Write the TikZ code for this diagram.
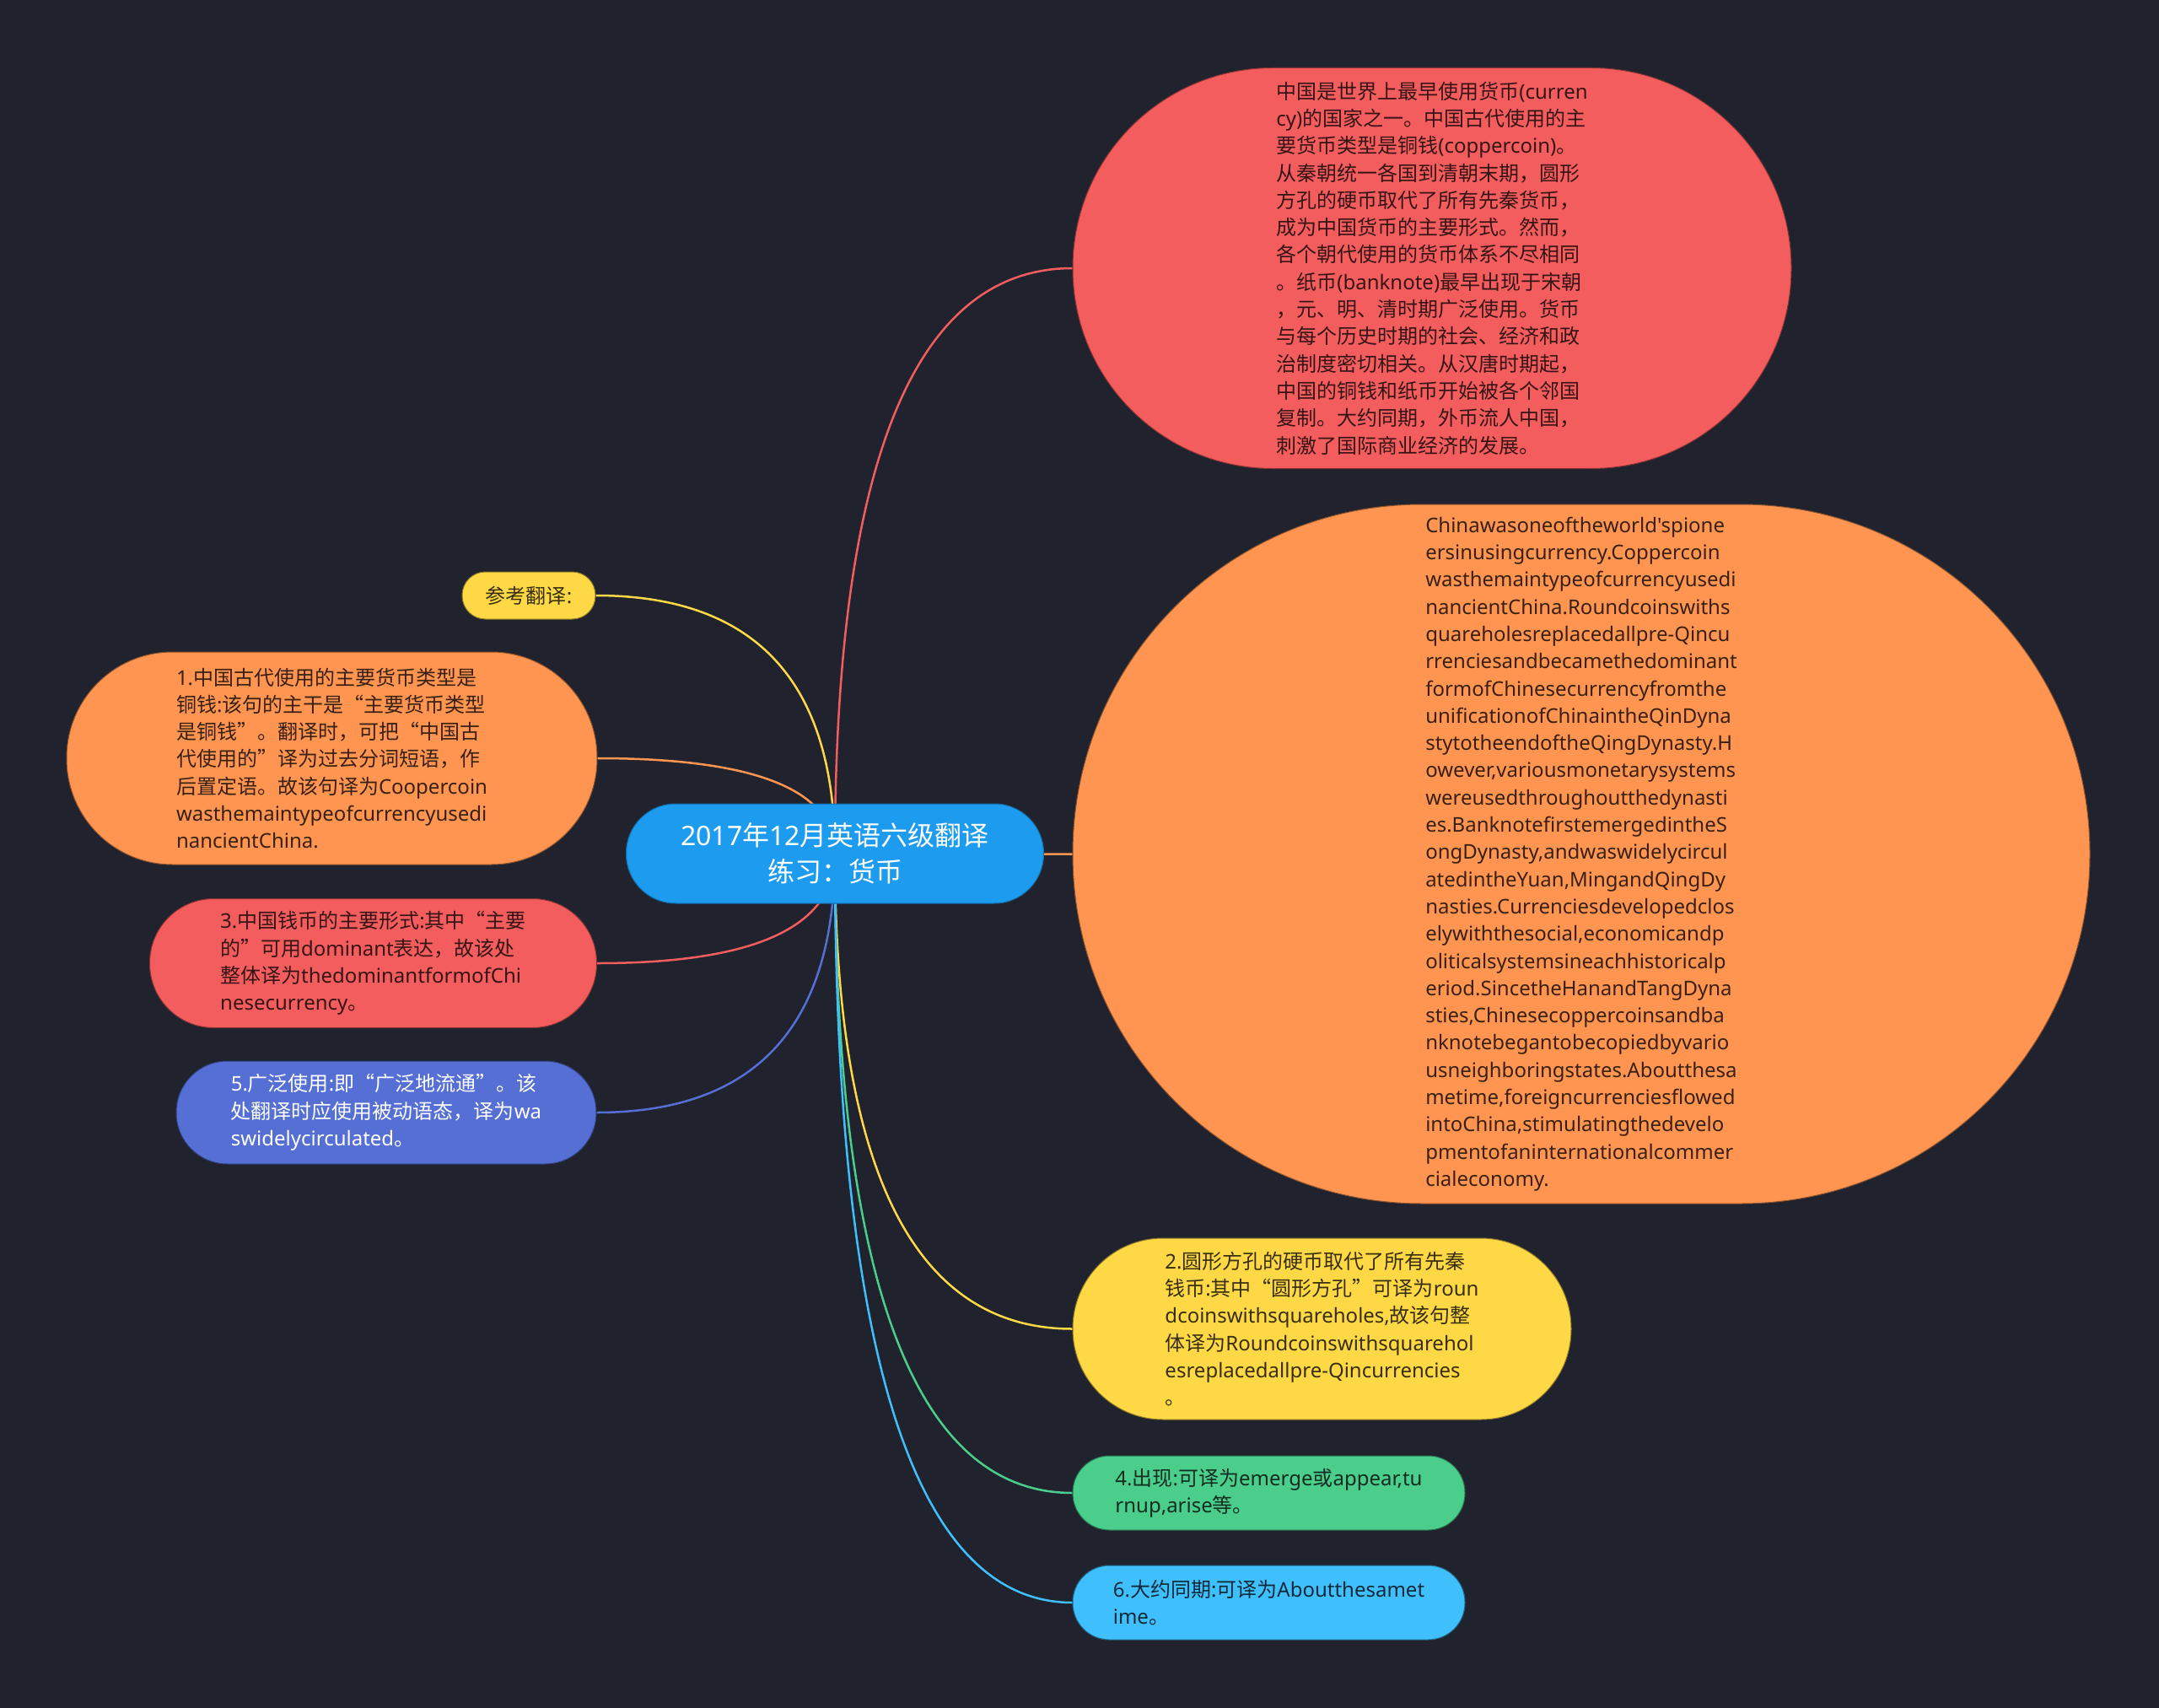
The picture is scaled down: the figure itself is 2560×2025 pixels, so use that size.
\documentclass[tikz,border=0pt]{standalone}
\usepackage{fontspec}
\setmainfont{Noto Sans}[Ligatures=TeXOff]
\newfontfamily\cjkfont{Noto Sans CJK SC}
\XeTeXinterchartokenstate=1
\newXeTeXintercharclass\cjkcls
\makeatletter
\count@="3000
\loop\ifnum\count@<"3040 \XeTeXcharclass\count@=\cjkcls \advance\count@ 1 \repeat
\count@="4E00
\loop\ifnum\count@<"A000 \XeTeXcharclass\count@=\cjkcls \advance\count@ 1 \repeat
\count@="FF00
\loop\ifnum\count@<"FFF0 \XeTeXcharclass\count@=\cjkcls \advance\count@ 1 \repeat
\makeatother
\XeTeXcharclass"201C=\cjkcls
\XeTeXcharclass"201D=\cjkcls
\XeTeXinterchartoks 0 \cjkcls = {\begingroup\cjkfont}
\XeTeXinterchartoks 4095 \cjkcls = {\begingroup\cjkfont}
\XeTeXinterchartoks \cjkcls 0 = {\endgroup}
\XeTeXinterchartoks \cjkcls 4095 = {\endgroup}
\usetikzlibrary{calc}
\pgfdeclarelayer{bg}
\pgfsetlayers{bg,main}
\definecolor{bgc}{HTML}{20232E}
\definecolor{cBlue}{HTML}{1C9BEF}
\definecolor{cRed}{HTML}{F45D5E}
\definecolor{cOrange}{HTML}{FF9551}
\definecolor{cYellow}{HTML}{FFD845}
\definecolor{cGreen}{HTML}{4BCE8C}
\definecolor{cSky}{HTML}{40BFFD}
\definecolor{cIndigo}{HTML}{556FD5}
\tikzset{
  leaf/.style={rectangle, fill=#1, draw=#1!55!black, line width=1pt,
    text=#1!22!black, align=left, inner sep=0pt,
    font=\fontsize{24pt}{32.3pt}\selectfont},
  conn/.style={draw=#1, line width=2.5pt},
}
\newcommand\linkto[3]{%
  \coordinate (k#1) at (c.center |- #1.#2);
  \draw[conn=#3] (c.center) .. controls ($(c.center)!0.6667!(k#1)$) and ($(#1.#2)!0.6667!(k#1)$) .. (#1.#2);}
\begin{document}
\begin{tikzpicture}[x=1pt,y=-1pt]
\begin{pgfonlayer}{bg}
\fill[bgc] (0,0) rectangle (2560,2025);
\end{pgfonlayer}
\useasboundingbox (0,0) rectangle (2560,2025);

\node[leaf=cBlue, draw=cBlue!70!black, text=white, align=center,
  font=\fontsize{32pt}{43pt}\selectfont,
  minimum width=495pt, minimum height=118pt, rounded corners=58.5pt]
  (c) at (990,1012) {2017年12月英语六级翻译\\练习：货币};

\node[leaf=cRed, minimum width=852pt, minimum height=475pt, rounded corners=237pt]
  (r1) at (1698,318) {中国是世界上最早使用货币(curren\\
cy)的国家之一。中国古代使用的主\\
要货币类型是铜钱(coppercoin)。\\
从秦朝统一各国到清朝末期，圆形\\
方孔的硬币取代了所有先秦货币，\\
成为中国货币的主要形式。然而，\\
各个朝代使用的货币体系不尽相同\\
。纸币(banknote)最早出现于宋朝\\
，元、明、清时期广泛使用。货币\\
与每个历史时期的社会、经济和政\\
治制度密切相关。从汉唐时期起，\\
中国的铜钱和纸币开始被各个邻国\\
复制。大约同期，外币流人中国，\\
刺激了国际商业经济的发展。};

\node[leaf=cOrange, minimum width=1206pt, minimum height=829pt, rounded corners=414pt]
  (o1) at (1875,1012.5) {Chinawasoneoftheworld'spione\\
ersinusingcurrency.Coppercoin\\
wasthemaintypeofcurrencyusedi\\
nancientChina.Roundcoinswiths\\
quareholesreplacedallpre-Qincu\\
rrenciesandbecamethedominant\\
formofChinesecurrencyfromthe\\
unificationofChinaintheQinDyna\\
stytotheendoftheQingDynasty.H\\
owever,variousmonetarysystems\\
wereusedthroughoutthedynasti\\
es.BanknotefirstemergedintheS\\
ongDynasty,andwaswidelycircul\\
atedintheYuan,MingandQingDy\\
nasties.Currenciesdevelopedclos\\
elywiththesocial,economicandp\\
oliticalsystemsineachhistoricalp\\
eriod.SincetheHanandTangDyna\\
sties,Chinesecoppercoinsandba\\
nknotebegantobecopiedbyvario\\
usneighboringstates.Aboutthesa\\
metime,foreigncurrenciesflowed\\
intoChina,stimulatingthedevelo\\
pmentofaninternationalcommer\\
cialeconomy.};

\node[leaf=cYellow, minimum width=591pt, minimum height=215pt, rounded corners=107pt]
  (y2) at (1567.5,1575.5) {2.圆形方孔的硬币取代了所有先秦\\
钱币:其中“圆形方孔”可译为roun\\
dcoinswithsquareholes,故该句整\\
体译为Roundcoinswithsquarehol\\
esreplacedallpre-Qincurrencies\\
。};

\node[leaf=cGreen, minimum width=465pt, minimum height=88pt, rounded corners=43.5pt]
  (g4) at (1504.5,1770) {4.出现:可译为emerge或appear,tu\\
rnup,arise等。};

\node[leaf=cSky, minimum width=465pt, minimum height=88pt, rounded corners=43.5pt]
  (b6) at (1504.5,1900) {6.大约同期:可译为Aboutthesamet\\
ime。};

\node[leaf=cYellow, minimum width=158pt, minimum height=56pt, rounded corners=27.5pt]
  (k0) at (627,706) {参考翻译:};

\node[leaf=cOrange, minimum width=629pt, minimum height=252pt, rounded corners=125.5pt]
  (o2) at (393.5,899) {1.中国古代使用的主要货币类型是\\
铜钱:该句的主干是“主要货币类型\\
是铜钱”。翻译时，可把“中国古\\
代使用的”译为过去分词短语，作\\
后置定语。故该句译为Coopercoin\\
wasthemaintypeofcurrencyusedi\\
nancientChina.};

\node[leaf=cRed, minimum width=530pt, minimum height=153pt, rounded corners=76pt]
  (r3) at (442.5,1142) {3.中国钱币的主要形式:其中“主要\\
的”可用dominant表达，故该处\\
整体译为thedominantformofChi\\
nesecurrency。};

\node[leaf=cIndigo, text=white, minimum width=498pt, minimum height=122pt, rounded corners=60.5pt]
  (p5) at (458,1319) {5.广泛使用:即“广泛地流通”。该\\
处翻译时应使用被动语态，译为wa\\
swidelycirculated。};

\begin{pgfonlayer}{bg}
\linkto{r1}{west}{cRed}
\linkto{o1}{west}{cOrange}
\linkto{y2}{west}{cYellow}
\linkto{g4}{west}{cGreen}
\linkto{b6}{west}{cSky}
\linkto{k0}{east}{cYellow}
\linkto{o2}{east}{cOrange}
\linkto{r3}{east}{cRed}
\linkto{p5}{east}{cIndigo}
\end{pgfonlayer}
\end{tikzpicture}
\end{document}
